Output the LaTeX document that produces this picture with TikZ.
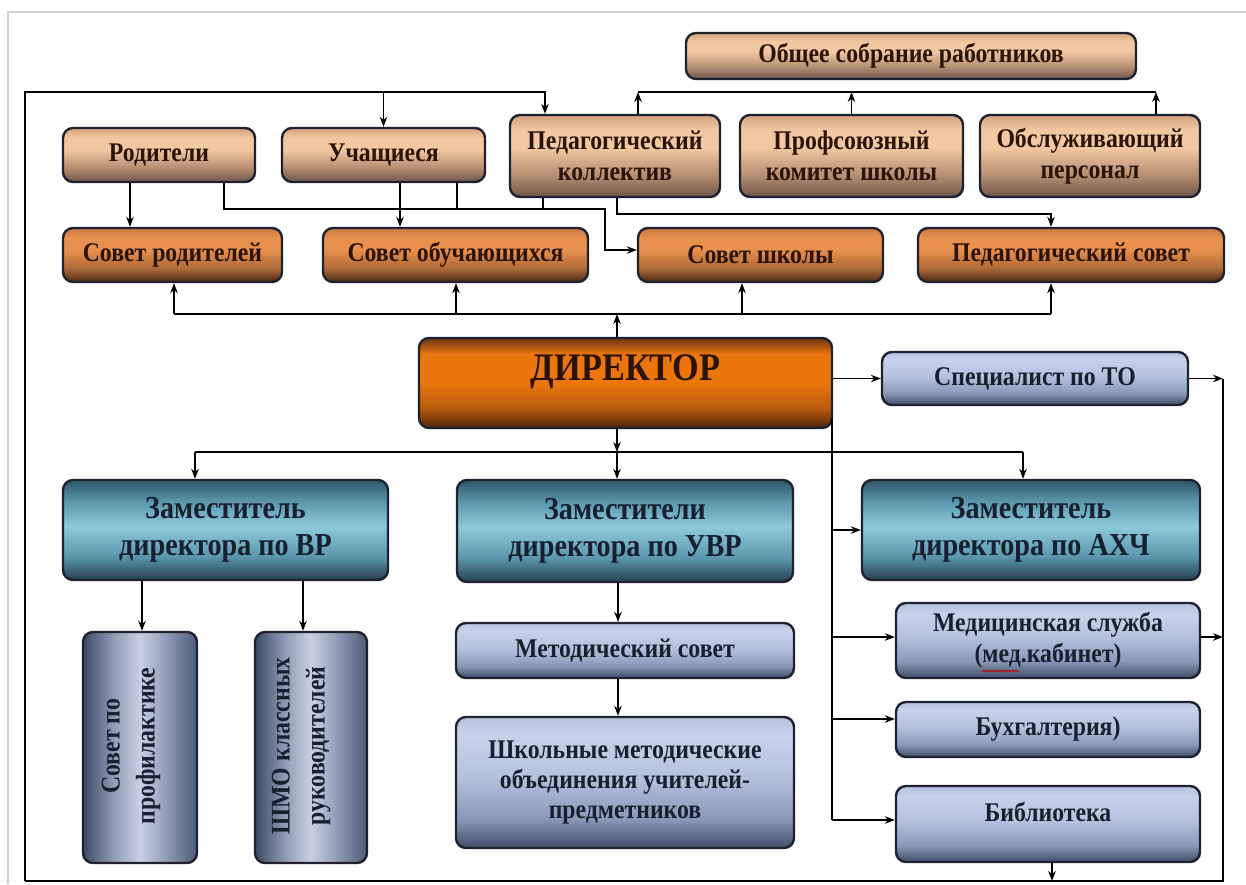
\documentclass[tikz,border=0pt]{standalone}
\usepackage{fontspec}
\setmainfont{Liberation Serif}[FakeStretch=0.88]
\usetikzlibrary{arrows.meta,calc,decorations.pathmorphing}

\definecolor{boxline}{HTML}{1E2230}
\definecolor{txtbrown}{HTML}{2B1308}
\definecolor{txtnavy}{HTML}{182030}
\definecolor{pagegrey}{HTML}{CFCFCF}

\definecolor{tanA}{HTML}{6E5548}
\definecolor{tanB}{HTML}{B48C70}
\definecolor{tanC}{HTML}{F2C8A2}
\definecolor{tanD}{HTML}{D2A07C}
\pgfdeclareverticalshading{tanshade}{100bp}{color(0bp)=(tanA); color(25bp)=(tanA); color(38bp)=(tanB); color(55bp)=(tanC); color(66bp)=(tanC); color(75bp)=(tanD); color(100bp)=(tanD)}

\definecolor{orA}{HTML}{4A2A18}
\definecolor{orB}{HTML}{B06A38}
\definecolor{orC}{HTML}{E8904E}
\definecolor{orD}{HTML}{C87A44}
\pgfdeclareverticalshading{orshade}{100bp}{color(0bp)=(orA); color(25bp)=(orA); color(38bp)=(orB); color(55bp)=(orC); color(66bp)=(orC); color(75bp)=(orD); color(100bp)=(orD)}

\definecolor{drA}{HTML}{4E240A}
\definecolor{drB}{HTML}{B85A0E}
\definecolor{drC}{HTML}{EC760E}
\definecolor{drD}{HTML}{6A3414}
\pgfdeclareverticalshading{dirshade}{100bp}{color(0bp)=(drA); color(25bp)=(drA); color(36bp)=(drB); color(50bp)=(drC); color(66bp)=(drC); color(75bp)=(drD); color(100bp)=(drD)}

\definecolor{tlA}{HTML}{24404F}
\definecolor{tlB}{HTML}{5C98AE}
\definecolor{tlC}{HTML}{8DCADA}
\definecolor{tlD}{HTML}{2E5669}
\pgfdeclareverticalshading{tealshade}{100bp}{color(0bp)=(tlA); color(25bp)=(tlA); color(37bp)=(tlB); color(52bp)=(tlC); color(64bp)=(tlB); color(75bp)=(tlD); color(100bp)=(tlD)}

\definecolor{blA}{HTML}{3E4C66}
\definecolor{blB}{HTML}{8898B6}
\definecolor{blC}{HTML}{B4C2DE}
\definecolor{blD}{HTML}{C8D2EA}
\pgfdeclareverticalshading{blueshade}{100bp}{color(0bp)=(blA); color(25bp)=(blA); color(36bp)=(blB); color(52bp)=(blC); color(68bp)=(blD); color(75bp)=(blC); color(100bp)=(blC)}

\definecolor{vA}{HTML}{3A4860}
\definecolor{vB}{HTML}{8E9AB4}
\definecolor{vC}{HTML}{C8D0E4}
\definecolor{vD}{HTML}{4C5A74}
\pgfdeclarehorizontalshading{vshade}{100bp}{color(0bp)=(vA); color(25bp)=(vA); color(38bp)=(vB); color(50bp)=(vC); color(62bp)=(vB); color(75bp)=(vD); color(100bp)=(vD)}

\tikzset{
  box/.style={draw=boxline, line width=2.4pt, rounded corners=10pt, inner sep=0pt,
    align=center, shade, font=\fontsize{27}{31}\selectfont\bfseries},
  tanbox/.style={box, shading=tanshade, text=txtbrown},
  orbox/.style={box, shading=orshade, text=txtbrown},
  dirbox/.style={box, shading=dirshade},
  tealbox/.style={box, shading=tealshade, text=txtnavy, font=\fontsize{32}{37}\selectfont\bfseries},
  bluebox/.style={box, shading=blueshade, text=txtnavy},
  vertbox/.style={box, shading=vshade},
  dirtext/.style={inner sep=0pt, text=txtbrown, font=\fontsize{39}{44}\selectfont\bfseries},
  bluetext/.style={inner sep=0pt, align=center, text=txtnavy, font=\fontsize{27}{31}\selectfont\bfseries},
  verttext/.style={inner sep=0pt, text=txtnavy, font=\fontsize{27}{35}\selectfont\bfseries},
  conn/.style={line width=1.5pt, draw=black},
  arr/.style={conn, -{Stealth[length=10pt,width=7.5pt]}},
}

\begin{document}
\begin{tikzpicture}[x=1pt,y=-1pt]
\fill[white] (0,0) rectangle (1246,884);
\useasboundingbox (0,0) rectangle (1246,884);
\draw[pagegrey, line width=1.5pt] (8,884) -- (8,12) -- (1246,12);

% ---------- nodes ----------
\node[tanbox, minimum width=450pt, minimum height=46pt] (obs) at (911,56) {Общее собрание работников};
\node[tanbox, minimum width=210pt, minimum height=82pt] (ped) at (615,156) {Педагогический\\коллектив};
\node[tanbox, minimum width=223pt, minimum height=82pt] (prof) at (851.5,156) {Профсоюзный\\комитет школы};
\node[tanbox, minimum width=220pt, minimum height=82pt] (obsl) at (1090,156) {Обслуживающий\\персонал};
\node[tanbox, minimum width=192pt, minimum height=54pt] (rod) at (159,155) {Родители};
\node[tanbox, minimum width=203pt, minimum height=54pt] (uch) at (383.5,155) {Учащиеся};

\node[orbox, minimum width=219pt, minimum height=54pt] (srod) at (172.5,255) {Совет родителей};
\node[orbox, minimum width=265pt, minimum height=54pt] (sobuch) at (455.5,255) {Совет обучающихся};
\node[orbox, minimum width=245pt, minimum height=54pt] (sshk) at (760.5,255) {Совет школы};
\node[orbox, minimum width=306pt, minimum height=54pt] (pedsov) at (1071,255) {Педагогический совет};

\node[dirbox, minimum width=413pt, minimum height=90pt] (dir) at (625.5,383) {};
\node[dirtext] (dirt) at (625.5,372) {ДИРЕКТОР};
\node[bluebox, minimum width=306pt, minimum height=53pt] (spec) at (1035,378.5) {Специалист по ТО};

\node[tealbox, minimum width=325pt, minimum height=100pt] (zvr) at (225.5,530) {Заместитель\\директора по ВР};
\node[tealbox, minimum width=336pt, minimum height=102pt] (zuvr) at (625,531) {Заместители\\директора по УВР};
\node[tealbox, minimum width=338pt, minimum height=100pt] (zahc) at (1031,530) {Заместитель\\директора по АХЧ};

\node[vertbox, minimum width=114pt, minimum height=231pt] (sprof) at (140,747.5) {};
\node[verttext] (sproft) at (130,746) {\rotatebox{90}{\begin{tabular}{@{}c@{}}Совет по\\профилактике\end{tabular}}};
\node[vertbox, minimum width=112pt, minimum height=231pt] (shmo) at (311,747.5) {};
\node[verttext] (shmot) at (300,746) {\rotatebox{90}{\begin{tabular}{@{}c@{}}ШМО классных\\руководителей\end{tabular}}};

\node[bluebox, minimum width=338pt, minimum height=55pt] (metod) at (625,650.5) {Методический совет};
\node[bluebox, minimum width=338pt, minimum height=131pt, font=\fontsize{27}{30}\selectfont\bfseries] (shmu) at (625,782.5) {Школьные методические\\объединения учителей-\\предметников};

\node[bluebox, minimum width=304pt, minimum height=75pt] (med) at (1048,640.5) {Медицинская служба\\(мед.кабинет)};
\node[bluebox, minimum width=304pt, minimum height=55pt] (buh) at (1048,729.5) {Бухгалтерия)};
\node[bluebox, minimum width=304pt, minimum height=76pt] (bib) at (1048,824) {};
\node[bluetext] (bibt) at (1048,812) {Библиотека};

\draw[red!75!black, line width=0.9pt, decorate, decoration={snake, amplitude=0.8pt, segment length=3pt}] (982,671) -- (1019,671);

% ---------- coordinates ----------
\coordinate (fbl) at (25,881);
\coordinate (ftl) at (25,92);
\coordinate (fbr) at (1223,881);
\coordinate (ftr) at (1223,378.5);
\coordinate (pedin) at (545,92);
\coordinate (obsL) at (638,92);
\coordinate (obsR) at (1156,92);
\coordinate (x130) at (130,0);
\coordinate (x400) at (400,0);
\coordinate (a1) at (224,209);
\coordinate (a2) at (605,209);
\coordinate (a3) at (605,250);
\coordinate (uchj) at (457,209);
\coordinate (pedj) at (543,209);
\coordinate (b1) at (617,214);
\coordinate (b2) at (1051,214);
\coordinate (dU) at (617,314);
\coordinate (hL) at (174,314);
\coordinate (h2) at (456,314);
\coordinate (h3) at (742,314);
\coordinate (hR) at (1051,314);
\coordinate (dD) at (617,452);
\coordinate (dL) at (195,452);
\coordinate (dR) at (1023,452);
\coordinate (rT) at (832,418);
\coordinate (rB) at (832,820);
\coordinate (m1) at (832,637);
\coordinate (m2) at (832,719);
\coordinate (medout) at (1223,637);
\coordinate (bibout) at (1052,881);
\coordinate (x142) at (142,0);
\coordinate (x303) at (303,0);
\coordinate (x618) at (618,0);

% ---------- connectors ----------
% outer frame loop
\draw[arr] (fbl) -- (ftl) -- (pedin) -- (ped.north -| pedin);
\draw[arr] (uch.north |- ftl) -- (uch.north);
\draw[conn] (fbl) -- (fbr) -- (ftr);
\draw[arr] (spec.east) -- (ftr);
\draw[arr] (med.east |- medout) -- (medout);
\draw[arr] (bib.south -| bibout) -- (bibout);

% to general meeting
\draw[conn] (obsL) -- (obsR);
\draw[arr] (ped.north -| obsL) -- (obsL);
\draw[arr] (prof.north) -- (prof.north |- obsL);
\draw[arr] (obsl.north -| obsR) -- (obsR);

% second row to councils
\draw[arr] (rod.south -| x130) -- (srod.north -| x130);
\draw[arr] (rod.south -| a1) -- (a1) -- (a2) -- (a3) -- (sshk.west |- a3);
\draw[conn] (uch.south -| uchj) -- (uchj);
\draw[conn] (ped.south -| pedj) -- (pedj);
\draw[arr] (uch.south -| x400) -- (sobuch.north -| x400);
\draw[arr] (ped.south -| b1) -- (b1) -- (b2) -- (pedsov.north -| b2);

% director up
\draw[arr] (dir.north -| dU) -- (dU);
\draw[conn] (hL) -- (hR);
\draw[arr] (hL) -- (srod.south -| hL);
\draw[arr] (h2) -- (sobuch.south -| h2);
\draw[arr] (h3) -- (sshk.south -| h3);
\draw[arr] (hR) -- (pedsov.south -| hR);

% director right
\draw[arr] (dir.east |- spec.west) -- (spec.west);

% director down
\draw[arr] (dir.south -| dD) -- (dD);
\draw[conn] (dL) -- (dR);
\draw[arr] (dL) -- (zvr.north -| dL);
\draw[arr] (dD) -- (zuvr.north -| dD);
\draw[arr] (dR) -- (zahc.north -| dR);

% right trunk
\draw[conn] (rT) -- (rB);
\draw[arr] (rT |- zahc.west) -- (zahc.west);
\draw[arr] (m1) -- (med.west |- m1);
\draw[arr] (m2) -- (buh.west |- m2);
\draw[arr] (rB) -- (bib.west |- rB);

% lower subtrees
\draw[arr] (zvr.south -| x142) -- (sprof.north -| x142);
\draw[arr] (zvr.south -| x303) -- (shmo.north -| x303);
\draw[arr] (zuvr.south -| x618) -- (metod.north -| x618);
\draw[arr] (metod.south -| x618) -- (shmu.north -| x618);
\end{tikzpicture}
\end{document}
